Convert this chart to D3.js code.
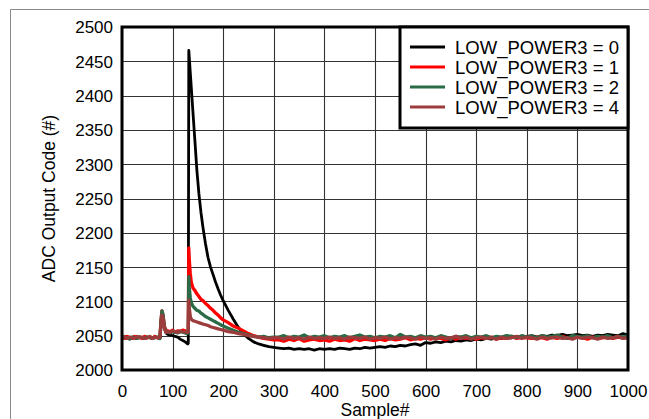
<!DOCTYPE html>
<html><head><meta charset="utf-8">
<script src="https://cdn.jsdelivr.net/npm/d3@7"></script>
<style>
html,body{margin:0;padding:0;background:#fff;}
svg{display:block;font-family:"Liberation Sans",Arial,Helvetica,sans-serif;}
</style></head>
<body><svg id="chart" width="649" height="419"></svg>
<script>
// ---- data ----
const samples = [
  0,5,10,15,20,25,30,35,40,45,50,55,60,65,70,75,
  77,79,81,84,87,90,
  95,100,105,110,115,120,125,128,130,
  131,132,133,135,137,140,144,148,152,156,160,165,170,175,180,185,190,195,
  200,210,220,230,240,250,260,270,280,290,300,
  310,320,330,340,350,360,370,380,390,400,
  410,420,430,440,450,460,470,480,490,500,
  510,520,530,540,550,560,570,580,590,600,
  610,620,630,640,650,660,670,680,690,700,
  710,720,730,740,750,760,770,780,790,800,
  810,820,830,840,850,860,870,880,890,900,
  910,920,930,940,950,960,970,980,990,1000
];
const lp0 = [
  2047,2048,2046,2047,2048,2046,2047,2048,2046,2047,2048,2047,2046,2048,2047,2046,
  2068,2082,2078,2060,2054,2052,
  2051,2050,2049,2048,2045,2043,2041,2039,2038,
  2039,2466,2455,2433,2411,2378,2335,2291,2257,2230,2208,2184,2164,2150,2139,2128,2118,2109,
  2101,2087,2074,2062,2053,2046,2041,2038,2036,2034,2033,
  2032,2031,2032,2030,2031,2030,2031,2029,2031,2030,
  2031,2030,2032,2031,2030,2032,2031,2033,2032,2033,
  2034,2033,2035,2034,2036,2035,2037,2038,2036,2040,
  2039,2041,2040,2042,2041,2043,2042,2044,2043,2045,
  2044,2046,2045,2047,2046,2048,2047,2049,2048,2049,
  2050,2048,2050,2049,2051,2050,2052,2050,2051,2052,
  2050,2051,2049,2051,2050,2052,2051,2050,2053,2051
];
const lp1 = [
  2048,2046,2049,2047,2046,2049,2047,2048,2046,2049,2047,2048,2046,2049,2047,2048,
  2072,2086,2080,2063,2058,2057,
  2056,2058,2055,2057,2056,2058,2057,2055,2057,
  2056,2178,2160,2140,2128,2120,2116,2111,2107,2103,2101,2097,2094,2090,2087,2083,2080,2076,
  2073,2069,2064,2061,2057,2053,2050,2048,2046,2045,2044,
  2044,2042,2045,2043,2046,2042,2044,2045,2043,2044,
  2042,2045,2043,2044,2042,2046,2043,2045,2044,2043,
  2045,2043,2046,2044,2045,2047,2044,2046,2045,2047,
  2045,2047,2046,2044,2047,2045,2048,2046,2047,2045,
  2047,2046,2048,2045,2047,2046,2049,2046,2048,2047,
  2046,2048,2047,2045,2048,2046,2049,2047,2046,2048,
  2047,2045,2048,2046,2047,2049,2046,2048,2047,2048
];
const lp2 = [
  2046,2048,2047,2045,2048,2047,2046,2048,2047,2046,2048,2047,2046,2047,2048,2046,
  2070,2086,2081,2062,2056,2055,
  2054,2056,2055,2054,2056,2055,2054,2053,2054,
  2054,2136,2120,2105,2098,2093,2090,2087,2086,2083,2081,2078,2076,2074,2072,2070,2068,2066,
  2064,2061,2058,2055,2053,2051,2049,2048,2049,2047,2048,
  2048,2050,2047,2049,2048,2051,2047,2049,2048,2050,
  2047,2049,2048,2050,2047,2049,2051,2048,2049,2047,
  2049,2048,2050,2047,2052,2048,2049,2047,2050,2048,
  2049,2047,2050,2048,2046,2049,2048,2050,2047,2049,
  2048,2050,2047,2049,2048,2050,2049,2047,2050,2048,
  2049,2047,2050,2048,2049,2051,2048,2046,2050,2049,
  2048,2050,2047,2049,2048,2050,2047,2049,2048,2050
];
const lp4 = [
  2047,2049,2046,2048,2047,2046,2049,2047,2048,2046,2047,2049,2046,2048,2047,2048,
  2066,2080,2076,2060,2055,2056,
  2055,2057,2056,2055,2057,2056,2055,2056,2055,
  2056,2102,2090,2078,2074,2072,2071,2070,2069,2068,2067,2066,2065,2063,2062,2061,2060,2059,
  2058,2056,2055,2053,2052,2050,2049,2048,2047,2046,2047,
  2047,2045,2048,2046,2047,2045,2048,2046,2047,2046,
  2048,2046,2047,2045,2048,2047,2046,2048,2045,2047,
  2046,2048,2045,2047,2046,2048,2047,2045,2048,2046,
  2047,2045,2048,2046,2047,2049,2046,2048,2045,2047,
  2048,2046,2047,2045,2048,2046,2047,2049,2046,2048,
  2047,2045,2048,2046,2047,2048,2046,2047,2045,2048,
  2046,2048,2047,2045,2048,2046,2047,2049,2046,2047
];
const seriesNames = ["LOW_POWER3 = 0","LOW_POWER3 = 1","LOW_POWER3 = 2","LOW_POWER3 = 4"];
const seriesColors = ["#000000","#ff0000","#2b6b47","#9c3c3c"];
const xTicks = [0,100,200,300,400,500,600,700,800,900,1000];
const yTicks = [2000,2050,2100,2150,2200,2250,2300,2350,2400,2450,2500];
const xTitle = "Sample#";
const yTitle = "ADC Output Code (#)";

// ---- layout ----
const svg = d3.select("#chart");
const L = 122, R = 628, T = 27, B = 370;
const x = d3.scaleLinear().domain([0,1000]).range([L,R]);
const y = d3.scaleLinear().domain([2000,2500]).range([B,T]);

// outer frame
svg.append("line").attr("x1",10.5).attr("x2",10.5).attr("y1",9.5).attr("y2",419).attr("stroke","#8a8a8a").attr("stroke-width",1);
svg.append("line").attr("x1",10.5).attr("x2",649).attr("y1",9.5).attr("y2",9.5).attr("stroke","#8a8a8a").attr("stroke-width",1);

// grid
const grid = svg.append("g");
grid.selectAll("line.gx").data(xTicks).join("line")
  .attr("x1",d=>Math.round(x(d))+0.5).attr("x2",d=>Math.round(x(d))+0.5)
  .attr("y1",T).attr("y2",B).attr("stroke","#333").attr("stroke-width",1.1);
grid.selectAll("line.gy").data(yTicks).join("line")
  .attr("y1",d=>Math.round(y(d))+0.5).attr("y2",d=>Math.round(y(d))+0.5)
  .attr("x1",L).attr("x2",R).attr("stroke","#333").attr("stroke-width",1.1);

// axes labels via d3 axes
const xAxis = d3.axisBottom(x).tickValues(xTicks).tickSize(0).tickPadding(0).tickFormat(d3.format("d"));
const gx = svg.append("g").attr("transform",`translate(0,${B})`).call(xAxis);
gx.select(".domain").remove();
gx.selectAll("text").attr("dy",null).attr("y",27).attr("font-size",17).attr("fill","#000")
  .attr("font-family","'Liberation Sans',Arial,sans-serif");

const yAxis = d3.axisLeft(y).tickValues(yTicks).tickSize(0).tickPadding(0).tickFormat(d3.format("d"));
const gy = svg.append("g").attr("transform",`translate(${L-9},0)`).call(yAxis);
gy.select(".domain").remove();
gy.selectAll("text").attr("dy","0.35em").attr("font-size",17).attr("fill","#000")
  .attr("font-family","'Liberation Sans',Arial,sans-serif");

// clip
svg.append("clipPath").attr("id","clip").append("rect").attr("x",L).attr("y",T).attr("width",R-L).attr("height",B-T);

// lines
const allSeries = [lp0, lp1, lp2, lp4];
const line = d3.line().x((d,i)=>x(samples[i])).y(d=>y(d));
const lg = svg.append("g").attr("clip-path","url(#clip)");
allSeries.forEach((s,k)=>{
  lg.append("path").datum(s).attr("d",line).attr("fill","none")
    .attr("stroke",seriesColors[k]).attr("stroke-width",k===0?2.8:3.3)
    .attr("stroke-linejoin","round");
});

// plot border
svg.append("rect").attr("x",L).attr("y",T).attr("width",R-L).attr("height",B-T)
  .attr("fill","none").attr("stroke","#000").attr("stroke-width",3);

// legend
const lgX = 400, lgY = 27, lgW = R-400, lgH = 101;
const leg = svg.append("g");
leg.append("rect").attr("x",lgX).attr("y",lgY).attr("width",lgW).attr("height",lgH)
  .attr("fill","#fff").attr("stroke","#000").attr("stroke-width",3);
seriesNames.forEach((n,k)=>{
  const yy = 47 + k*20;
  leg.append("line").attr("x1",410).attr("x2",445).attr("y1",yy).attr("y2",yy)
    .attr("stroke",seriesColors[k]).attr("stroke-width",3);
  leg.append("text").attr("x",455).attr("y",yy).attr("dy","0.36em")
    .attr("font-size",18.5).attr("fill","#000").text(n);
});

// titles
svg.append("text").attr("x",(L+R)/2).attr("y",416).attr("text-anchor","middle")
  .attr("font-size",17.5).attr("fill","#000").text(xTitle);
svg.append("text").attr("transform",`translate(55,${(T+B)/2}) rotate(-90)`)
  .attr("text-anchor","middle").attr("font-size",17.5).attr("fill","#000").text(yTitle);
</script>
</body></html>
